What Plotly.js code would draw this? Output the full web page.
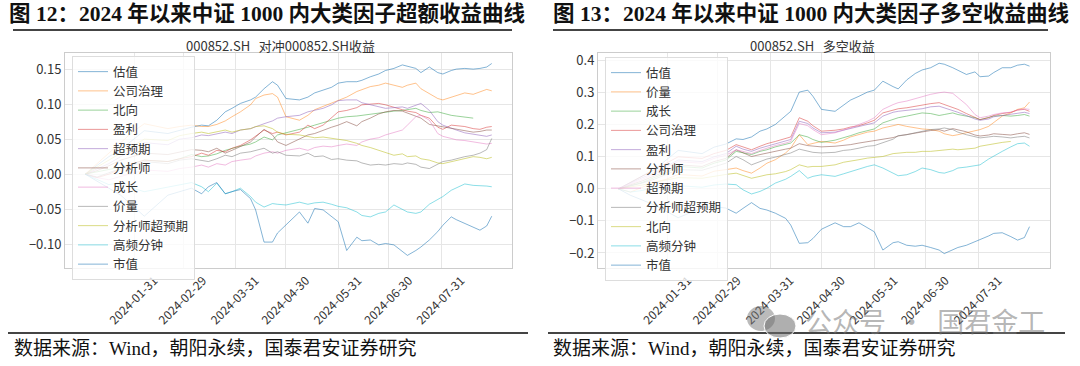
<!DOCTYPE html>
<html><head><meta charset="utf-8">
<script src="https://cdn.plot.ly/plotly-3.0.1.min.js"></script>
<style>html,body{margin:0;padding:0;background:#fff;}#chart{width:1080px;height:366px;}</style>
</head><body><div id="chart"></div>
<script>
const dates = ['2024-01-02','2024-01-09','2024-01-16','2024-01-23','2024-01-30','2024-02-06','2024-02-20','2024-02-27',
'2024-03-05','2024-03-11','2024-03-15','2024-03-20','2024-03-25','2024-03-29',
'2024-04-03','2024-04-09','2024-04-12','2024-04-17','2024-04-22','2024-04-25','2024-04-30',
'2024-05-08','2024-05-13','2024-05-17','2024-05-22','2024-05-27','2024-05-31',
'2024-06-05','2024-06-11','2024-06-14','2024-06-19','2024-06-24','2024-06-28',
'2024-07-03','2024-07-08','2024-07-11','2024-07-16','2024-07-19','2024-07-24','2024-07-29',
'2024-08-01','2024-08-06','2024-08-09','2024-08-14','2024-08-19','2024-08-23','2024-08-27','2024-08-30'];
const monthTicks = ['2024-01-31','2024-02-29','2024-03-31','2024-04-30','2024-05-31','2024-06-30','2024-07-31'];
const yTicksLeft = [-0.10,-0.05,0,0.05,0.10,0.15];
const yTicksRight = [-0.2,-0.1,0,0.1,0.2,0.3,0.4];

// ---- 图12 超额收益 (对冲000852.SH) ----
const namesLeft = ['估值','公司治理','北向','盈利','超预期','分析师','成长','价量','分析师超预期','高频分钟','市值'];
const ex_valuation = [0,0.012,0.025,0.035,0.048,0.062,0.058,0.063,0.067,0.070,0.069,0.077,0.089,0.094,0.101,0.106,0.110,0.122,0.132,0.127,0.108,0.106,0.110,0.116,0.120,0.124,0.130,0.132,0.132,0.134,0.139,0.143,0.148,0.151,0.156,0.154,0.151,0.145,0.153,0.145,0.143,0.148,0.150,0.151,0.150,0.151,0.153,0.158];
const ex_governance = [0,0.015,0.030,0.045,0.060,0.072,0.065,0.068,0.070,0.068,0.068,0.071,0.076,0.082,0.089,0.099,0.108,0.113,0.115,0.110,0.082,0.077,0.084,0.092,0.097,0.101,0.106,0.110,0.118,0.121,0.125,0.127,0.130,0.127,0.124,0.127,0.130,0.122,0.115,0.108,0.106,0.110,0.113,0.116,0.114,0.118,0.121,0.119];
const ex_north = [0,0.003,0.006,0.010,0.015,0.020,0.018,0.022,0.028,0.025,0.026,0.029,0.034,0.037,0.040,0.043,0.046,0.053,0.049,0.056,0.059,0.063,0.067,0.070,0.073,0.077,0.080,0.082,0.083,0.084,0.086,0.088,0.089,0.090,0.091,0.092,0.094,0.091,0.088,0.089,0.087,0.084,0.083,0.082,0.080,null,null,null];
const ex_profit = [0,-0.005,0.000,0.008,0.015,0.020,0.018,0.022,0.025,0.030,0.027,0.034,0.032,0.037,0.041,0.049,0.054,0.063,0.058,0.060,0.056,0.060,0.070,0.065,0.070,0.080,0.089,0.091,0.095,0.099,0.100,0.101,0.099,0.095,0.092,0.090,0.088,0.084,0.080,0.067,0.064,0.070,0.069,0.068,0.065,0.064,0.067,0.068];
const ex_surprise = [0,0.008,0.015,0.025,0.035,0.045,0.042,0.050,0.052,0.056,0.055,0.058,0.060,0.058,0.063,0.065,0.068,0.072,0.076,0.080,0.082,0.084,0.089,0.091,0.094,0.099,0.105,0.106,0.106,0.102,0.099,0.096,0.094,0.095,0.096,0.094,0.099,0.101,0.091,0.075,0.070,0.065,0.063,0.059,0.057,0.056,0.054,0.056];
const ex_analyst = [0,0.005,0.012,0.020,0.025,0.030,0.028,0.032,0.035,0.034,0.032,0.037,0.030,0.034,0.039,0.046,0.053,0.064,0.056,0.046,0.041,0.050,0.056,0.058,0.063,0.067,0.070,0.075,0.069,0.075,0.080,0.086,0.089,0.091,0.090,0.087,0.083,0.080,0.071,0.069,0.067,0.065,0.064,0.062,0.060,0.061,0.063,0.063];
const ex_growth = [0,-0.005,-0.008,-0.003,0.002,0.006,0.004,0.008,0.010,0.013,0.010,0.015,0.013,0.018,0.020,0.022,0.026,0.030,0.032,0.030,0.034,0.037,0.034,0.038,0.040,0.039,0.041,0.043,0.041,0.046,0.050,0.052,0.056,0.059,0.063,0.070,0.082,0.084,0.077,0.058,0.054,0.051,0.049,0.048,0.046,0.045,0.043,0.044];
const ex_pricevol = [0,-0.004,0.002,0.008,0.012,0.018,0.015,0.020,0.022,0.020,0.018,0.022,0.027,0.025,0.030,0.032,0.034,0.037,0.030,0.032,0.027,0.026,0.030,0.025,0.026,0.021,0.022,0.020,0.019,0.016,0.013,0.014,0.013,0.015,0.014,0.016,0.014,0.010,0.008,0.015,0.018,0.020,0.022,0.025,0.027,0.030,0.035,0.051];
const ex_analystSurprise = [0,0.010,0.020,0.030,0.040,0.050,0.048,0.055,0.058,0.060,0.058,0.060,0.063,0.060,0.063,0.065,0.068,0.069,0.065,0.060,0.057,0.056,0.054,0.052,0.053,0.051,0.050,0.048,0.044,0.041,0.038,0.034,0.030,0.027,0.029,0.025,0.026,0.022,0.020,0.016,0.015,0.018,0.020,0.022,0.025,0.024,0.022,0.024];
const ex_hfminute = [0,-0.008,-0.015,-0.012,-0.020,-0.025,-0.018,-0.015,-0.012,-0.018,-0.025,-0.013,-0.028,-0.025,-0.020,-0.032,-0.040,-0.047,-0.042,-0.043,-0.044,-0.040,-0.043,-0.041,-0.040,-0.043,-0.046,-0.048,-0.054,-0.059,-0.061,-0.056,-0.054,-0.044,-0.050,-0.054,-0.056,-0.054,-0.043,-0.036,-0.032,-0.023,-0.020,-0.014,-0.016,-0.016,-0.017,-0.018];
const ex_size = [0,-0.010,-0.020,-0.030,-0.045,-0.060,-0.030,-0.025,-0.020,-0.028,-0.018,-0.012,-0.028,-0.025,-0.022,-0.035,-0.051,-0.097,-0.097,-0.084,-0.073,-0.054,-0.070,-0.049,-0.051,-0.061,-0.068,-0.109,-0.090,-0.095,-0.094,-0.101,-0.099,-0.101,-0.111,-0.116,-0.109,-0.104,-0.094,-0.082,-0.073,-0.061,-0.065,-0.070,-0.075,-0.080,-0.074,-0.060];

// ---- 图13 多空收益 ----
const namesRight = ['估值','价量','成长','公司治理','盈利','分析师','超预期','分析师超预期','北向','高频分钟','市值'];
const ls_valuation = [0,0.020,0.040,0.060,0.090,0.120,0.110,0.130,0.140,0.156,0.154,0.162,0.180,0.187,0.201,0.227,0.242,0.302,0.308,0.289,0.248,0.242,0.263,0.277,0.289,0.302,0.308,0.336,0.319,0.312,0.340,0.360,0.371,0.378,0.392,0.389,0.378,0.371,0.357,0.365,0.350,0.352,0.363,0.378,0.378,0.386,0.389,0.383];
const ls_pricevol = [0,-0.010,0.005,0.020,0.030,0.045,0.040,0.055,0.060,0.065,0.057,0.049,0.065,0.080,0.091,0.112,0.127,0.169,0.138,0.141,0.148,0.143,0.152,0.162,0.169,0.177,0.180,0.190,0.197,0.201,0.195,0.190,0.187,0.185,0.180,0.172,0.166,0.169,0.175,0.180,0.185,0.195,0.208,0.227,0.237,0.248,0.253,0.271];
const ls_growth = [0,0.010,0.020,0.035,0.050,0.070,0.065,0.080,0.090,0.117,0.112,0.107,0.117,0.122,0.131,0.138,0.143,0.169,0.162,0.154,0.145,0.152,0.159,0.166,0.175,0.183,0.187,0.206,0.218,0.222,0.227,0.232,0.237,0.235,0.229,0.232,0.237,0.232,0.227,0.222,0.216,0.222,0.227,0.229,0.227,0.229,0.232,0.227];
const ls_governance = [0,0.020,0.040,0.060,0.080,0.100,0.095,0.110,0.120,0.138,0.131,0.122,0.133,0.141,0.148,0.156,0.162,0.222,0.211,0.197,0.180,0.183,0.187,0.193,0.197,0.206,0.214,0.237,0.246,0.250,0.253,0.258,0.263,0.266,0.269,0.263,0.253,0.248,0.235,0.222,0.216,0.222,0.229,0.235,0.239,0.246,0.248,0.242];
const ls_profit = [0,0.018,0.035,0.050,0.070,0.090,0.085,0.100,0.110,0.133,0.124,0.117,0.127,0.133,0.141,0.148,0.154,0.211,0.204,0.190,0.175,0.177,0.183,0.187,0.193,0.201,0.206,0.227,0.239,0.242,0.246,0.248,0.250,0.256,0.258,0.253,0.246,0.239,0.229,0.218,0.214,0.218,0.225,0.229,0.232,0.237,0.239,0.235];
const ls_analyst = [0,0.012,0.025,0.040,0.055,0.075,0.070,0.085,0.095,0.122,0.112,0.101,0.107,0.112,0.117,0.124,0.127,0.141,0.135,0.133,0.131,0.133,0.135,0.138,0.143,0.147,0.152,0.156,0.160,0.165,0.170,0.175,0.178,0.182,0.185,0.180,0.188,0.185,0.178,0.168,0.165,0.168,0.172,0.170,0.168,0.172,0.175,0.170];
const ls_surprise = [0,0.015,0.030,0.045,0.065,0.085,0.080,0.095,0.105,0.122,0.117,0.110,0.120,0.127,0.135,0.143,0.148,0.204,0.197,0.185,0.169,0.175,0.183,0.190,0.201,0.211,0.222,0.248,0.263,0.269,0.274,0.281,0.289,0.295,0.300,0.302,0.298,0.284,0.263,0.232,0.222,0.227,0.232,0.237,0.239,0.246,0.250,0.248];
const ls_analystSurprise = [0,0.008,0.018,0.030,0.045,0.060,0.058,0.070,0.080,0.101,0.091,0.075,0.086,0.093,0.099,0.107,0.112,0.124,0.117,0.114,0.112,0.114,0.120,0.122,0.127,0.133,0.135,0.145,0.155,0.166,0.169,0.175,0.180,0.185,0.187,0.190,0.185,0.177,0.169,0.162,0.159,0.162,0.164,0.162,0.159,0.162,0.164,0.159];
const ls_north = [0,0.005,0.012,0.020,0.028,0.035,0.033,0.040,0.045,0.049,0.041,0.033,0.039,0.044,0.047,0.054,0.060,0.075,0.068,0.070,0.070,0.075,0.083,0.086,0.091,0.096,0.099,0.101,0.110,0.112,0.114,0.114,0.117,0.117,0.120,0.122,0.124,0.122,0.124,0.127,0.133,0.138,0.141,0.145,0.148,null,null,null];
const ls_hfminute = [0,-0.010,-0.005,0.005,0.000,0.010,0.005,0.012,0.015,0.013,-0.003,-0.016,-0.008,0.002,0.018,0.030,0.039,0.057,0.033,0.039,0.044,0.039,0.047,0.054,0.062,0.070,0.075,0.065,0.049,0.041,0.044,0.054,0.065,0.060,0.051,0.049,0.057,0.065,0.068,0.072,0.075,0.093,0.103,0.117,0.131,0.141,0.143,0.133];
const ls_size = [0,-0.020,-0.035,-0.050,-0.070,-0.090,-0.060,-0.055,-0.060,-0.076,-0.061,-0.043,-0.061,-0.066,-0.076,-0.092,-0.113,-0.170,-0.168,-0.155,-0.126,-0.106,-0.118,-0.118,-0.106,-0.123,-0.134,-0.191,-0.168,-0.165,-0.176,-0.179,-0.176,-0.183,-0.191,-0.202,-0.189,-0.183,-0.176,-0.165,-0.160,-0.147,-0.139,-0.137,-0.149,-0.160,-0.152,-0.118];

const seriesLeft = [ex_valuation,ex_governance,ex_north,ex_profit,ex_surprise,ex_analyst,ex_growth,ex_pricevol,ex_analystSurprise,ex_hfminute,ex_size];
const seriesRight = [ls_valuation,ls_pricevol,ls_growth,ls_governance,ls_profit,ls_analyst,ls_surprise,ls_analystSurprise,ls_north,ls_hfminute,ls_size];

const palette = ['rgba(31,119,180,0.55)','rgba(255,127,14,0.48)','rgba(44,160,44,0.48)','rgba(214,39,40,0.48)','rgba(148,103,189,0.55)','rgba(140,86,75,0.55)','rgba(227,119,194,0.5)','rgba(127,127,127,0.55)','rgba(188,189,34,0.55)','rgba(23,190,207,0.5)','rgba(31,119,180,0.55)'];
const FONT = 'Noto Sans CJK SC, sans-serif';
const SERIF = 'Liberation Serif, Noto Sans CJK SC, serif';

const traces = [];
namesLeft.forEach((n,i)=>traces.push({type:'scatter',mode:'lines',x:dates,y:seriesLeft[i],name:n,xaxis:'x',yaxis:'y',legend:'legend',line:{color:palette[i],width:1},connectgaps:false,hoverinfo:'skip'}));
namesRight.forEach((n,i)=>traces.push({type:'scatter',mode:'lines',x:dates,y:seriesRight[i],name:n,xaxis:'x2',yaxis:'y2',legend:'legend2',line:{color:palette[i],width:1},connectgaps:false,hoverinfo:'skip'}));

const W=1080,H=366;
const px=v=>v/W, py=v=>1-v/H;
const xCommon = {type:'date',range:['2023-12-21','2024-09-11'],tickvals:monthTicks,ticktext:monthTicks,tickangle:-45,ticklabelshift:20,ticks:'',
  showgrid:true,gridcolor:'#e6e6e6',gridwidth:1,showline:true,mirror:true,linecolor:'#cccccc',linewidth:1,zeroline:false,
  tickfont:{family:FONT,size:12,color:'#333'}};
const yCommon = {showgrid:true,gridcolor:'#e6e6e6',gridwidth:1,showline:true,mirror:true,linecolor:'#cccccc',linewidth:1,zeroline:false,ticks:'',
  tickfont:{family:FONT,size:13,color:'#333'},domain:[1-268/H,1-53/H]};
const legendCommon = {xanchor:'left',yanchor:'top',bgcolor:'rgba(255,255,255,0.8)',bordercolor:'#dddddd',borderwidth:1,
  font:{family:FONT,size:12.5,color:'#333'},traceorder:'normal',itemclick:false};

const layout = {
  width:W,height:H,margin:{l:0,r:0,t:0,b:0},paper_bgcolor:'#fff',plot_bgcolor:'#fff',showlegend:true,
  xaxis:Object.assign({},xCommon,{domain:[px(65),px(512)],anchor:'y'}),
  yaxis:Object.assign({},yCommon,{anchor:'x',range:[-0.134,0.173],tickvals:yTicksLeft,tickformat:'.2f'}),
  xaxis2:Object.assign({},xCommon,{domain:[px(598),px(1050)],anchor:'y2'}),
  yaxis2:Object.assign({},yCommon,{anchor:'x2',range:[-0.247,0.424],tickvals:yTicksRight,tickformat:'.1f'}),
  legend:Object.assign({},legendCommon,{x:px(72),y:py(56)}),
  legend2:Object.assign({},legendCommon,{x:px(605),y:py(57)}),
  annotations:[
    {text:'图 12：2024 年以来中证 1000 内大类因子超额收益曲线',x:px(7),y:py(14),xref:'paper',yref:'paper',xanchor:'left',yanchor:'middle',showarrow:false,font:{family:SERIF,size:21.5,color:'#111',weight:700}},
    {text:'图 13：2024 年以来中证 1000 内大类因子多空收益曲线',x:px(551),y:py(14),xref:'paper',yref:'paper',xanchor:'left',yanchor:'middle',showarrow:false,font:{family:SERIF,size:21.5,color:'#111',weight:700}},
    {text:'000852.SH   对冲000852.SH收益',x:px(280),y:py(45),xref:'paper',yref:'paper',xanchor:'center',yanchor:'middle',showarrow:false,font:{family:FONT,size:13,color:'#333'}},
    {text:'000852.SH   多空收益',x:px(812),y:py(45),xref:'paper',yref:'paper',xanchor:'center',yanchor:'middle',showarrow:false,font:{family:FONT,size:13,color:'#333'}},
    {text:'数据来源：Wind，朝阳永续，国泰君安证券研究',x:px(12),y:py(348),xref:'paper',yref:'paper',xanchor:'left',yanchor:'middle',showarrow:false,font:{family:SERIF,size:19,color:'#111'}},
    {text:'数据来源：Wind，朝阳永续，国泰君安证券研究',x:px(551),y:py(348),xref:'paper',yref:'paper',xanchor:'left',yanchor:'middle',showarrow:false,font:{family:SERIF,size:19,color:'#111'}},
    {text:'公众号  ·  国君金工',x:px(925),y:py(320),xref:'paper',yref:'paper',xanchor:'center',yanchor:'middle',showarrow:false,font:{family:FONT,size:27,color:'rgba(120,120,120,0.55)'}}
  ],
  shapes:[
    {type:'line',xref:'paper',yref:'paper',x0:px(13),x1:px(512),y0:py(30),y1:py(30),line:{color:'#444',width:2}},
    {type:'line',xref:'paper',yref:'paper',x0:px(553),x1:px(1048),y0:py(30),y1:py(30),line:{color:'#444',width:2}},
    {type:'line',xref:'paper',yref:'paper',x0:px(8),x1:px(528),y0:py(333),y1:py(333),line:{color:'#444',width:2}},
    {type:'line',xref:'paper',yref:'paper',x0:px(548),x1:px(1065),y0:py(333),y1:py(333),line:{color:'#444',width:2}},
    {type:'circle',xref:'paper',yref:'paper',x0:px(747),x1:px(775),y0:py(331),y1:py(306),fillcolor:'rgba(120,120,120,0.5)',line:{width:0}},
    {type:'circle',xref:'paper',yref:'paper',x0:px(764),x1:px(796),y0:py(338),y1:py(314),fillcolor:'rgba(110,110,110,0.55)',line:{color:'#fff',width:1}}
  ]
};
Plotly.newPlot('chart',traces,layout,{staticPlot:true,displayModeBar:false});
</script></body></html>
